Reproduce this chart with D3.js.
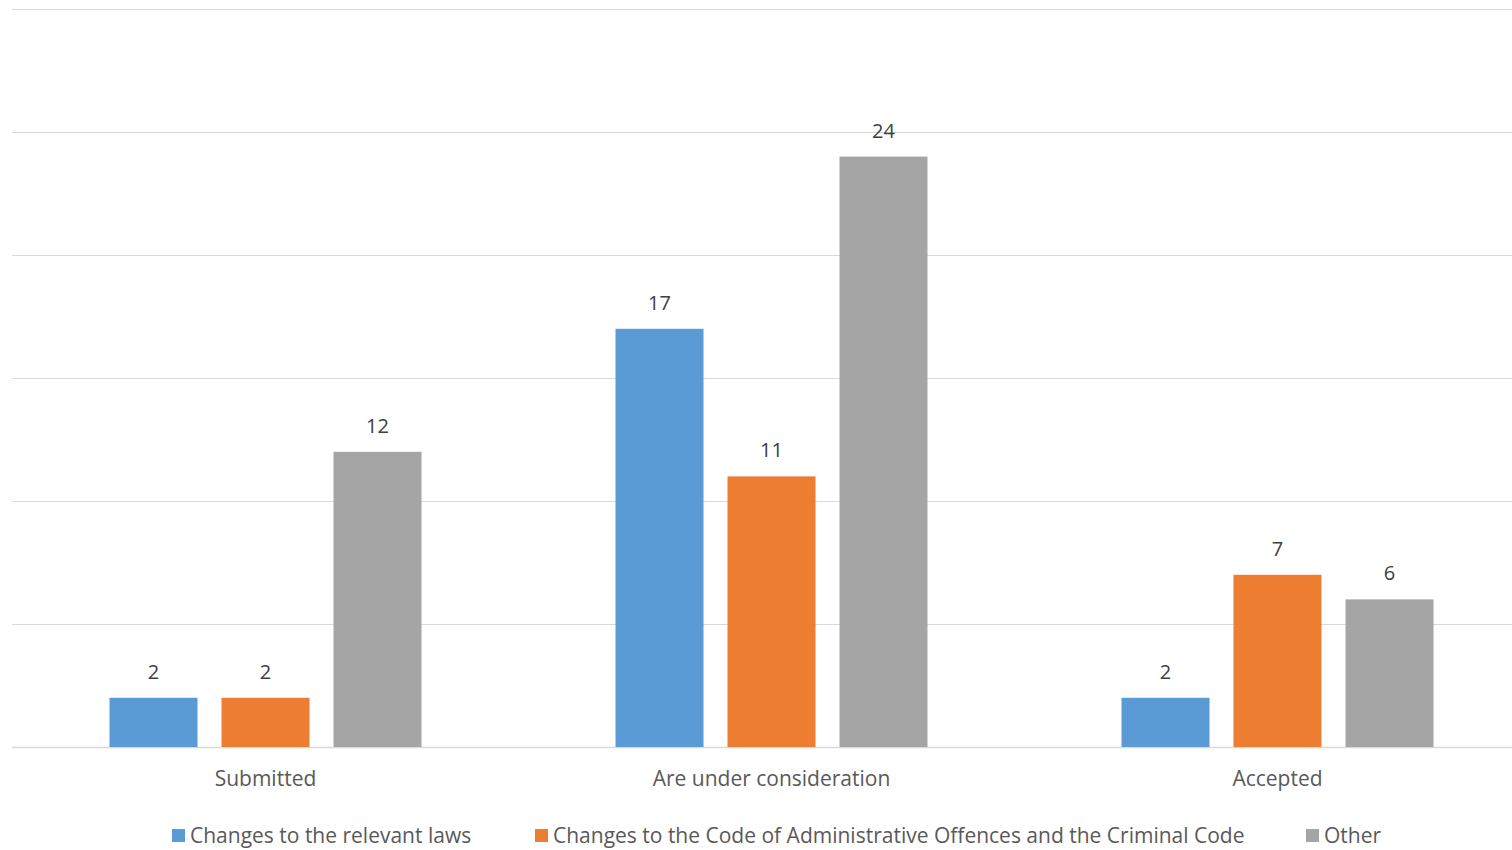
<!DOCTYPE html>
<html>
<head>
<meta charset="UTF-8">
<title>Proposals by type</title>
<script src="https://cdn.jsdelivr.net/npm/d3@7"></script>
<style>
  body { margin: 0; background: #fff; }
  text { font-family: "Open Sans", Lato, sans-serif; fill: #595959; }
</style>
</head>
<body>
<div class="container"></div>
<script>
var categories = ["Submitted", "Are under consideration", "Accepted"];
var seriesNames = ["Changes to the relevant laws",
                   "Changes to the Code of Administrative Offences and the Criminal Code",
                   "Other"];
var laws  = [2, 17, 2];
var codes = [2, 11, 7];
var other = [12, 24, 6];
var yTicks = [0, 5, 10, 15, 20, 25, 30];

var colors = ["#5B9BD5", "#ED7D31", "#A5A5A5"];
var seriesValues = [laws, codes, other];

var width = 1512, height = 850;

var svg = d3.select(".container").append("svg")
    .attr("width", width)
    .attr("height", height);

var y = d3.scaleLinear().domain([0, 30]).range([747, 9]);

// the category bands run a bit past the right edge, like the original
var x0 = d3.scaleBand().domain(categories).range([12.5, 1530.5]);
var x1 = d3.scaleBand().domain(d3.range(3)).range([0, 312]).paddingInner(24 / 112);

// gridlines
svg.append("g").selectAll("line")
    .data(yTicks)
    .enter().append("line")
    .attr("x1", 12).attr("x2", 1512)
    .attr("y1", function(d) { return Math.round(y(d)) + 0.5; })
    .attr("y2", function(d) { return Math.round(y(d)) + 0.5; })
    .attr("stroke", "#D9D9D9")
    .attr("stroke-width", function(d) { return d === 0 ? 1.5 : 1; });

var groups = svg.selectAll(".cat")
    .data(categories)
    .enter().append("g")
    .attr("class", "cat")
    .attr("transform", function(d) {
        return "translate(" + (x0(d) + (x0.bandwidth() - 312) / 2) + ",0)";
    });

groups.selectAll("rect")
    .data(function(d, i) {
        return seriesValues.map(function(vals, s) { return {s: s, v: vals[i]}; });
    })
    .enter().append("rect")
    .attr("x", function(d) { return x1(d.s); })
    .attr("width", x1.bandwidth())
    .attr("y", function(d) { return y(d.v); })
    .attr("height", function(d) { return y(0) - y(d.v); })
    .attr("fill", function(d) { return colors[d.s]; });

// value labels
groups.selectAll(".val")
    .data(function(d, i) {
        return seriesValues.map(function(vals, s) { return {s: s, v: vals[i]}; });
    })
    .enter().append("text")
    .attr("class", "val")
    .attr("x", function(d) { return x1(d.s) + x1.bandwidth() / 2; })
    .attr("y", function(d) { return y(d.v) - 19; })
    .attr("text-anchor", "middle")
    .style("font-size", "20px")
    .style("fill", "#404040")
    .text(function(d) { return d.v; });

// category labels
svg.selectAll(".catlabel")
    .data(categories)
    .enter().append("text")
    .attr("class", "catlabel")
    .attr("x", function(d) { return x0(d) + x0.bandwidth() / 2; })
    .attr("y", 786)
    .attr("text-anchor", "middle")
    .style("font-size", "21px")
    .text(function(d) { return d; });

// legend
var legendX = [172, 535, 1306];
var legend = svg.selectAll(".legend")
    .data(seriesNames)
    .enter().append("g")
    .attr("class", "legend")
    .attr("transform", function(d, i) { return "translate(" + legendX[i] + ",829)"; });

legend.append("rect")
    .attr("width", 13).attr("height", 13)
    .attr("fill", function(d, i) { return colors[i]; });

legend.append("text")
    .attr("x", 18)
    .attr("y", 14)
    .style("font-size", "21px")
    .text(function(d) { return d; });
</script>
</body>
</html>
